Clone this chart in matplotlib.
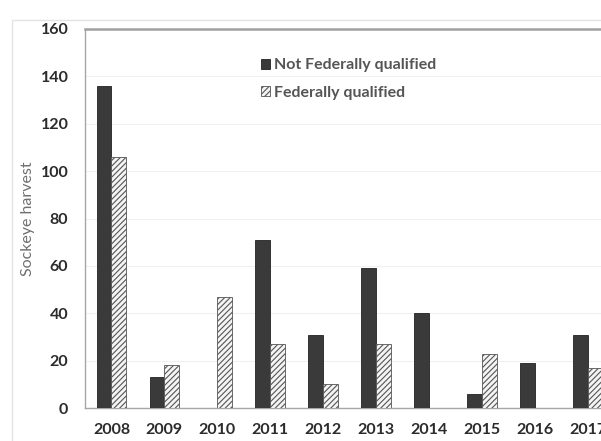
import matplotlib
matplotlib.use("Agg")
import matplotlib.pyplot as plt
import numpy as np
from matplotlib.patches import Rectangle

years = ["2008", "2009", "2010", "2011", "2012", "2013", "2014", "2015", "2016", "2017"]
not_fed_qualified = [136, 13, 0, 71, 31, 59, 40, 6, 19, 31]
fed_qualified = [106, 18, 47, 27, 10, 27, 0, 23, 0, 17]
y_ticks = [0, 20, 40, 60, 80, 100, 120, 140, 160]

plt.rcParams["font.family"] = ["Lato", "DejaVu Sans"]
plt.rcParams["hatch.linewidth"] = 0.8

W, H = 601, 441
fig = plt.figure(figsize=(W / 100, H / 100), dpi=100)

# outer chart frame (runs off the right and bottom edges)
fig.patches.append(Rectangle((12 / W, -0.05), 1.0, 1 - 20 / H + 0.05,
                             transform=fig.transFigure, fill=False,
                             edgecolor="#e3e3e3", linewidth=1.0))

left, right = 85 / W, 614.5 / W
bottom, top = 1 - 408 / H, 1 - 29 / H
ax = fig.add_axes([left, bottom, right - left, top - bottom])

x = np.arange(len(years))
w = 0.28
ax.bar(x - w / 2, not_fed_qualified, w, color="#3a3a3a", edgecolor="#222222",
       linewidth=0.6, label="Not Federally qualified", zorder=3)
ax.bar(x + w / 2, fed_qualified, w, color="#f4f4f4", edgecolor="#555555",
       hatch="//////", linewidth=0.6, label="Federally qualified", zorder=3)

ax.set_xlim(-0.5, len(years) - 0.5)
ax.set_ylim(0, 160)
ax.set_yticks(y_ticks)
ax.set_xticks(x)
ax.set_xticklabels(years)
ax.tick_params(axis="both", length=0, labelsize=11.5, colors="#2b2b2b")
ax.tick_params(axis="y", pad=12)
ax.tick_params(axis="x", pad=11)
for lab in ax.get_xticklabels() + ax.get_yticklabels():
    lab.set_fontweight("bold")

ax.yaxis.grid(True, color="#f0f0f0", linewidth=0.8, zorder=0)
ax.set_axisbelow(True)

for side in ("left", "bottom"):
    ax.spines[side].set_color("#a6a6a6")
    ax.spines[side].set_linewidth(1.0)
ax.spines["top"].set_color("#a0a0a0")
ax.spines["top"].set_linewidth(1.8)
ax.spines["right"].set_visible(False)

ax.set_ylabel("Sockeye harvest", fontsize=11.5, color="#707070")
ax.yaxis.set_label_coords(-(85 - 35) / 530, 0.5)

leg = ax.legend(loc="upper left", bbox_to_anchor=((247 - 85) / 530, (408 - 44) / 379),
                frameon=False, handlelength=0.55, handleheight=0.55,
                handletextpad=0.25, labelspacing=0.85, fontsize=11.5)
for t in leg.get_texts():
    t.set_fontweight("bold")
    t.set_color("#555555")

fig.savefig("out.png", dpi=100)
